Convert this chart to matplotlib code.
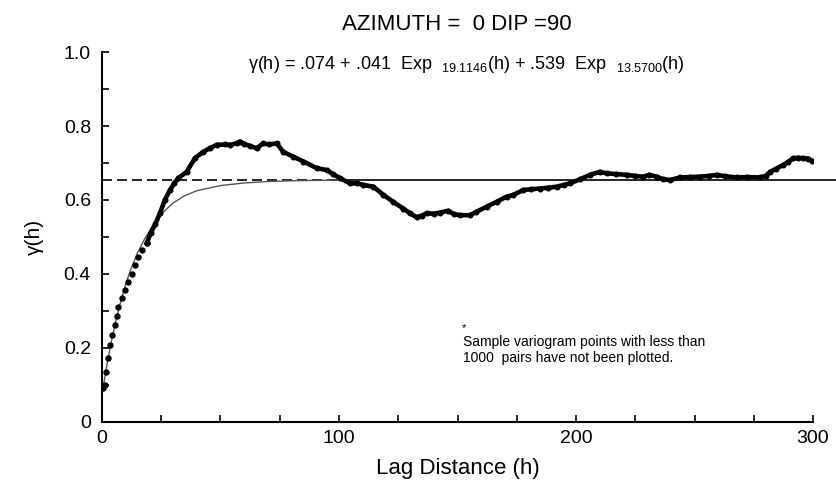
import matplotlib
matplotlib.use("Agg")
import matplotlib.pyplot as plt
from matplotlib.ticker import MultipleLocator

plt.rcParams["font.family"] = ["Liberation Sans", "DejaVu Sans"]
plt.rcParams["mathtext.fontset"] = "custom"
plt.rcParams["mathtext.rm"] = "Liberation Sans"
plt.rcParams["mathtext.it"] = "Liberation Sans:italic"

# sample variogram points (lag, gamma)
lag_h = [0.5, 1.3, 1.7, 2.4, 3.4, 4.3, 5.5, 6.2, 6.9, 8.3, 9.7, 11.1, 12.5, 13.9,
         15.3, 16.7, 18.9, 20.5, 22.5, 24.5, 26.5, 28.7, 30.5, 32.2, 35.7, 39.2,
         42.7, 45.5, 48.4, 52.0, 54.0, 56.8, 58.2, 60.0, 62.4, 65.3, 68.0, 70.5,
         73.7, 76.5, 80.7, 85.0, 90.6, 94.8, 97.5, 100.4, 104.6, 107.5, 110.0,
         114.5, 118.7, 122.9, 127.1, 130.0, 132.8, 135.0, 137.0, 140.0, 142.6,
         146.0, 148.5, 151.0, 155.3, 158.0, 162.3, 166.5, 170.7, 173.6, 177.8,
         181.0, 184.8, 188.0, 191.9, 195.0, 197.5, 201.7, 205.9, 210.0, 213.0,
         217.0, 221.4, 225.0, 228.4, 231.0, 234.0, 236.8, 239.7, 243.9, 248.0,
         252.3, 256.0, 259.4, 263.0, 267.8, 272.0, 277.6, 280.0, 281.9, 284.5,
         287.5, 289.5, 291.7, 293.5, 295.9, 298.0, 299.4]
gamma_h = [0.093, 0.100, 0.136, 0.172, 0.208, 0.235, 0.262, 0.286, 0.312, 0.334,
           0.357, 0.379, 0.400, 0.424, 0.447, 0.465, 0.483, 0.510, 0.535, 0.565,
           0.600, 0.627, 0.645, 0.659, 0.676, 0.713, 0.730, 0.740, 0.749, 0.750,
           0.749, 0.753, 0.758, 0.752, 0.746, 0.740, 0.753, 0.750, 0.753, 0.730,
           0.717, 0.704, 0.686, 0.681, 0.670, 0.659, 0.645, 0.645, 0.641, 0.636,
           0.614, 0.595, 0.577, 0.564, 0.553, 0.558, 0.564, 0.563, 0.566, 0.571,
           0.562, 0.559, 0.559, 0.568, 0.582, 0.595, 0.609, 0.614, 0.627, 0.629,
           0.631, 0.633, 0.636, 0.641, 0.645, 0.656, 0.668, 0.676, 0.672, 0.670,
           0.668, 0.665, 0.663, 0.668, 0.663, 0.656, 0.654, 0.661, 0.662, 0.663,
           0.665, 0.668, 0.664, 0.661, 0.662, 0.661, 0.665, 0.676, 0.685, 0.695,
           0.703, 0.713, 0.714, 0.713, 0.712, 0.706]

# fitted model curve (lag, gamma)
model_h = [0, 2, 4, 6, 8, 10, 12, 15, 18, 21, 25, 30, 35, 40, 50, 60, 70, 80, 100]
model_g = [0.074, 0.152, 0.219, 0.278, 0.328, 0.372, 0.410, 0.457, 0.495, 0.526,
           0.562, 0.592, 0.612, 0.625, 0.639, 0.646, 0.650, 0.652, 0.654]

sill = 0.654
sill_dashed_h = [0, 100]
sill_solid_h = [100, 310]

x_ticks = [0, 100, 200, 300]
x_labels = ["0", "100", "200", "300"]
y_ticks = [0, 0.2, 0.4, 0.6, 0.8, 1.0]
y_labels = ["0", "0.2", "0.4", "0.6", "0.8", "1.0"]

fig = plt.figure(figsize=(8.36, 4.86), dpi=100)
ax = fig.add_axes([0.122, 0.1317, 0.8505, 0.7613])

ax.plot(sill_dashed_h, [sill, sill], color="black", lw=1.2, linestyle=(0, (6, 3)))
ax.plot(sill_solid_h, [sill, sill], color="black", lw=1.2, clip_on=False)
ax.plot(model_h, model_g, color="#555555", lw=1.0)

n_sep = 17  # early points drawn as separate dots
ax.plot(lag_h[:n_sep], gamma_h[:n_sep], "o", color="black", ms=3.6)
ax.plot(lag_h[n_sep - 1:], gamma_h[n_sep - 1:], "-o", color="black", lw=3.3, ms=3.3)

ax.set_xlim(0, 300)
ax.set_ylim(0, 1.0)
ax.set_xticks(x_ticks)
ax.set_xticklabels(x_labels)
ax.set_yticks(y_ticks)
ax.set_yticklabels(y_labels)
ax.xaxis.set_minor_locator(MultipleLocator(25))
ax.yaxis.set_minor_locator(MultipleLocator(0.1))
ax.tick_params(which="both", direction="in", length=5, width=1.2, labelsize=14)
ax.tick_params(axis="x", pad=6)
ax.tick_params(axis="y", pad=8)

for s in ["top", "right"]:
    ax.spines[s].set_visible(False)
for s in ["left", "bottom"]:
    ax.spines[s].set_linewidth(1.5)

ax.set_xlabel("Lag Distance (h)", fontsize=16, labelpad=8)
ax.set_ylabel("γ(h)", fontsize=15, labelpad=14)

fig.text(0.547, 0.95, "AZIMUTH =  0 DIP =90", ha="center", va="center", fontsize=16)
fig.text(0.297, 0.867,
         "γ(h) = .074 + .041  Exp  $_{19.1146}$(h) + .539  Exp  $_{13.5700}$(h)",
         ha="left", va="center", fontsize=13)

fig.text(0.5525, 0.325, "*", fontsize=8, ha="left", va="center")
fig.text(0.554, 0.28, "Sample variogram points with less than\n1000  pairs have not been plotted.",
         ha="left", va="center", fontsize=10, linespacing=1.15)

fig.savefig("out.png", dpi=100)
